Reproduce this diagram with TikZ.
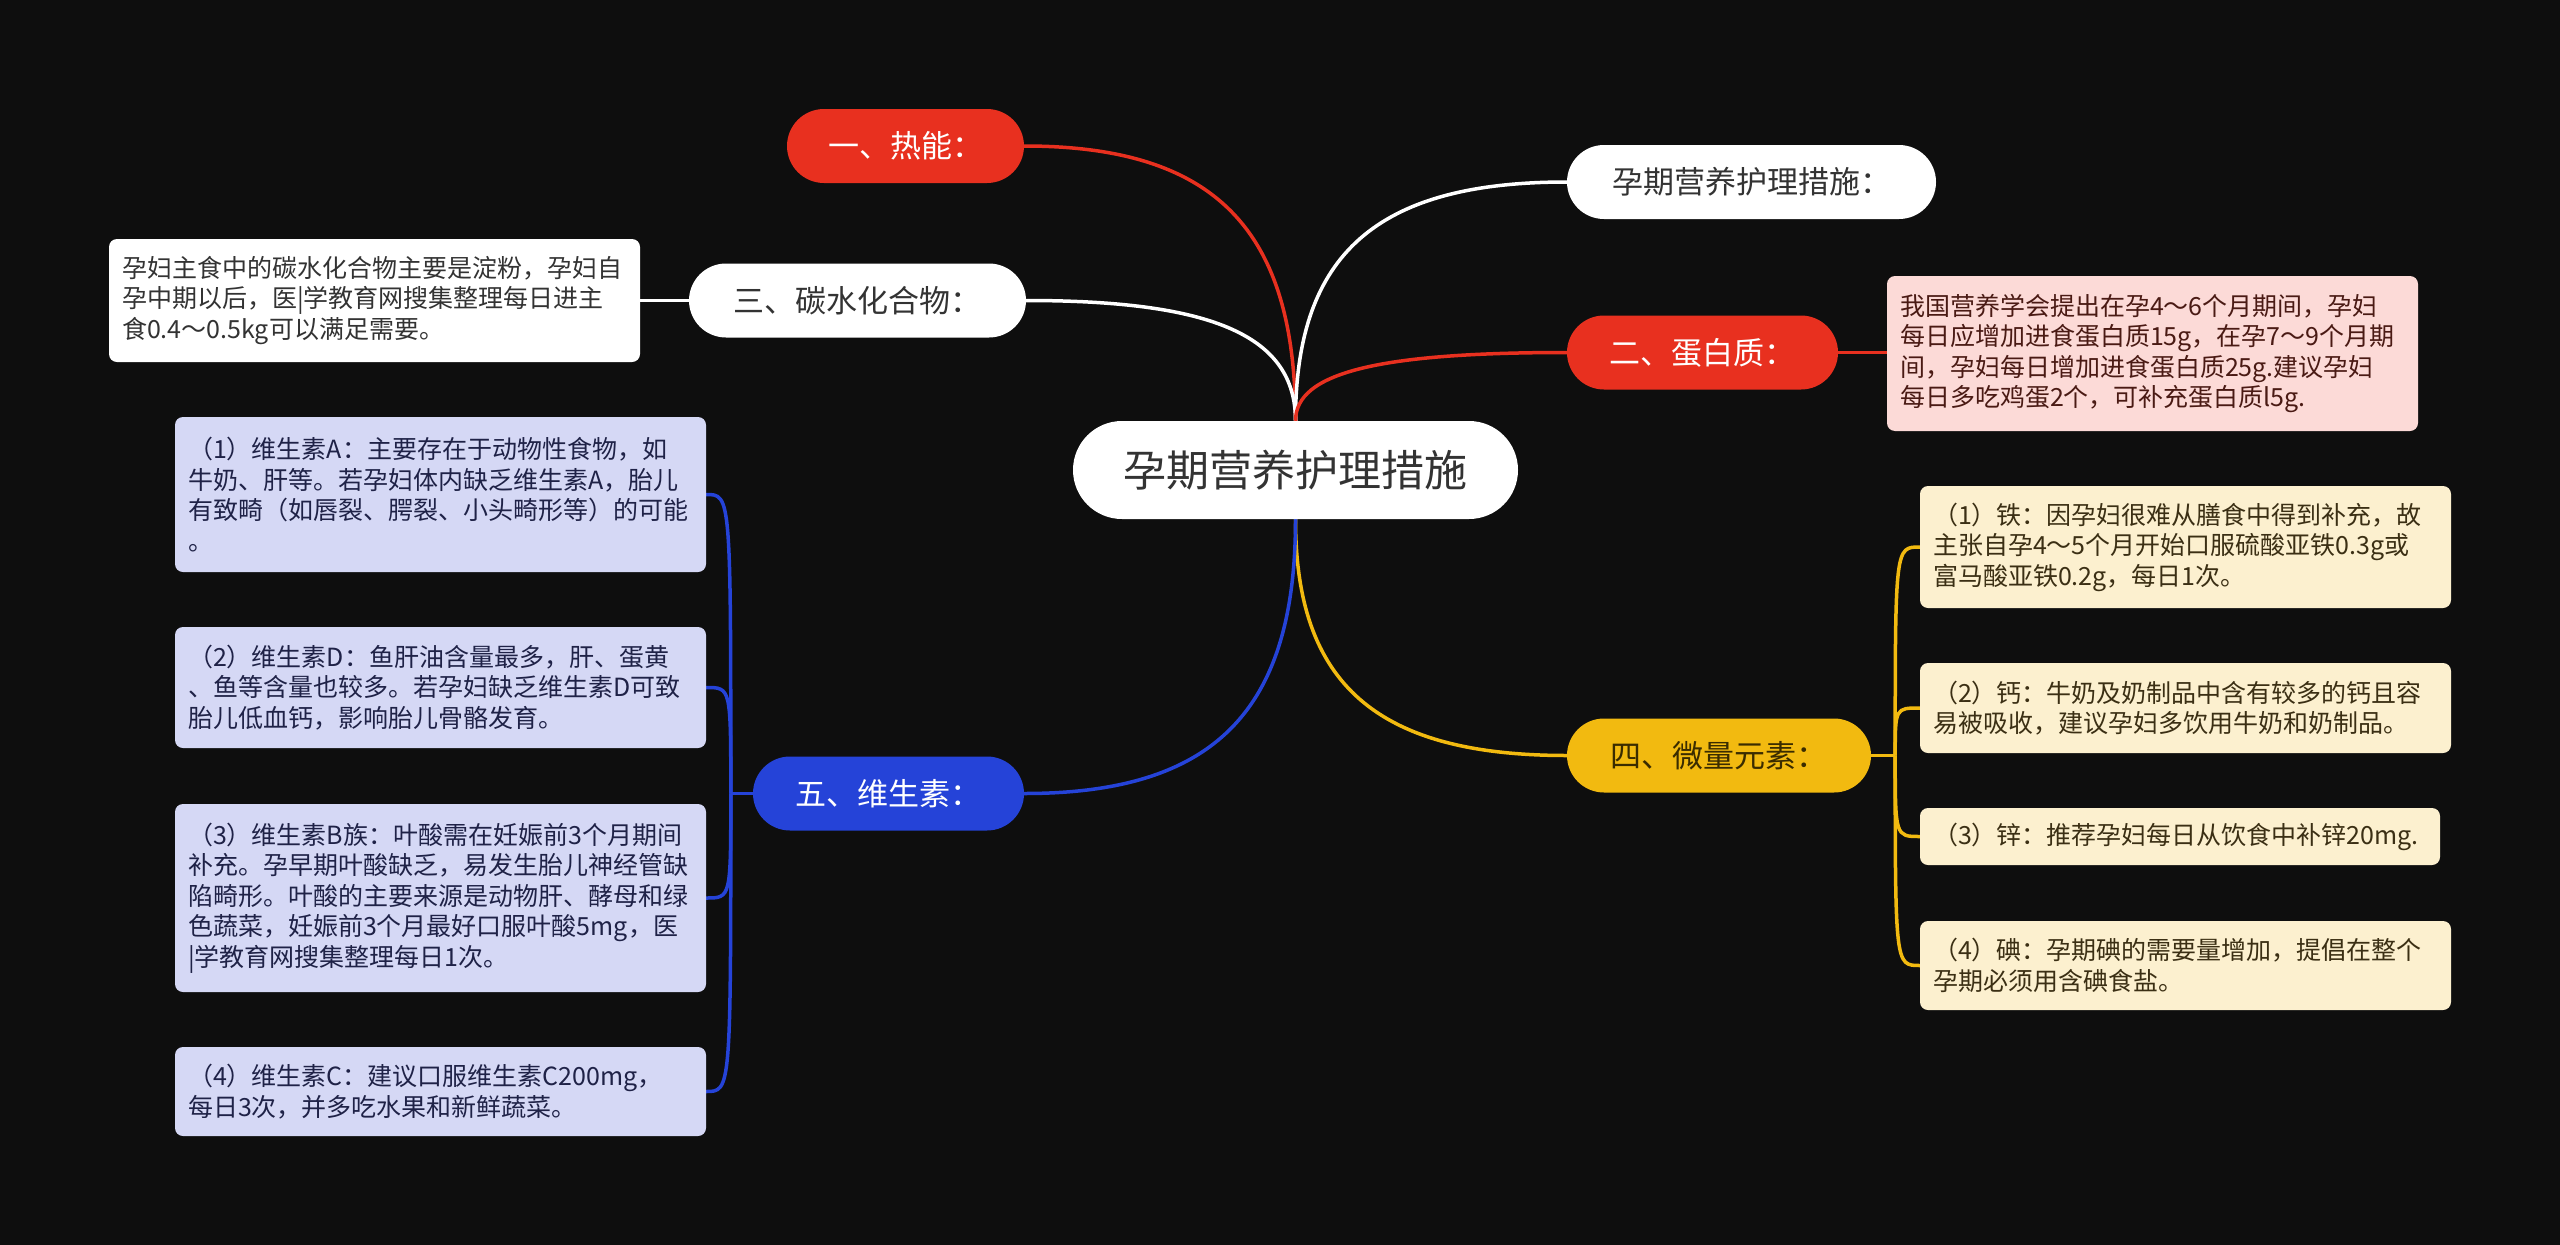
\documentclass[tikz,border=0pt]{standalone}
\usepackage{fontspec}
\setmainfont{Noto Sans CJK SC}
\usetikzlibrary{calc,backgrounds}
\definecolor{bg}{HTML}{0E0E0E}
\definecolor{cred}{HTML}{E8301F}
\definecolor{cblue}{HTML}{2543D8}
\definecolor{cyel}{HTML}{F2BA10}
\definecolor{ctext}{HTML}{333333}
\definecolor{protfill}{HTML}{FCDAD7}
\definecolor{prottext}{HTML}{4A1A14}
\definecolor{minfill}{HTML}{FCF0CF}
\definecolor{mintext}{HTML}{3B2F14}
\definecolor{vitfill}{HTML}{D5D8F5}
\definecolor{vittext}{HTML}{1F2247}
\definecolor{yeltext}{HTML}{3A2C00}
\newcommand\mmbranch[3]{\draw[#1] (#2) .. controls ($(#2)!0.7!(#2|-#3)$) and ($(#3)!0.7!(#2|-#3)$) .. (#3);}
\begin{document}
\begin{tikzpicture}[x=1pt,y=-1pt,
  pill/.style={rounded corners=37pt, minimum height=74pt, inner sep=0pt, font=\fontsize{31}{36}\selectfont},
  redpill/.style={pill, fill=cred, text=white},
  whitepill/.style={pill, fill=white, text=ctext},
  yelpill/.style={pill, fill=cyel, text=yeltext},
  bluepill/.style={pill, fill=cblue, text=white},
  centre/.style={rounded corners=49pt, minimum height=98pt, minimum width=445pt, inner sep=0pt, fill=white, text=ctext, font=\fontsize{43}{50}\selectfont},
  note/.style={rounded corners=8pt, inner xsep=13pt, inner ysep=0pt, text width=505pt, align=left, font=\fontsize{25}{30.5}\selectfont},
  carbbox/.style={note, fill=white, text=ctext},
  protbox/.style={note, fill=protfill, text=prottext},
  minbox/.style={note, fill=minfill, text=mintext},
  vitbox/.style={note, fill=vitfill, text=vittext},
  conn/.style={line width=3.5pt},
  redline/.style={conn, draw=cred},
  whiteline/.style={conn, draw=white},
  yelline/.style={conn, draw=cyel},
  blueline/.style={conn, draw=cblue}
]
\useasboundingbox (0,0) rectangle (2560,1245);

% central and main topics
\node[centre] (c) at (1295.5,470) {孕期营养护理措施};
\node[redpill, minimum width=237pt] (p1) at (905.5,146) {一、热能：};
\node[whitepill, minimum width=369pt] (p0) at (1751.5,182) {孕期营养护理措施：};
\node[whitepill, minimum width=337pt] (p3) at (857.5,300.5) {三、碳水化合物：};
\node[redpill, minimum width=271pt] (p2) at (1702.5,352.5) {二、蛋白质：};
\node[yelpill, minimum width=304pt] (p4) at (1719,755.5) {四、微量元素：};
\node[bluepill, minimum width=271pt] (p5) at (888.5,793.5) {五、维生素：};

% detail boxes
\node[carbbox, minimum height=123pt] (carb) at (374.5,300.5) {孕妇主食中的碳水化合物主要是淀粉，孕妇自\\孕中期以后，医|学教育网搜集整理每日进主\\食0.4～0.5kg可以满足需要。};
\node[protbox, minimum height=155pt] (prot) at (2152.5,353.5) {我国营养学会提出在孕4～6个月期间，孕妇\\每日应增加进食蛋白质15g，在孕7～9个月期\\间，孕妇每日增加进食蛋白质25g.建议孕妇\\每日多吃鸡蛋2个，可补充蛋白质l5g.};

\node[minbox, minimum height=122pt] (iron) at (2185.5,547) {（1）铁：因孕妇很难从膳食中得到补充，故\\主张自孕4～5个月开始口服硫酸亚铁0.3g或\\富马酸亚铁0.2g，每日1次。};
\node[minbox, minimum height=90pt] (calc) at (2185.5,708) {（2）钙：牛奶及奶制品中含有较多的钙且容\\易被吸收，建议孕妇多饮用牛奶和奶制品。};
\node[minbox, text width=494pt, minimum height=57pt] (zinc) at (2180,836.5) {（3）锌：推荐孕妇每日从饮食中补锌20mg.};
\node[minbox, minimum height=89pt] (iod) at (2185.5,965.5) {（4）碘：孕期碘的需要量增加，提倡在整个\\孕期必须用含碘食盐。};

\node[vitbox, minimum height=155pt] (va) at (440.5,494.5) {（1）维生素A：主要存在于动物性食物，如\\牛奶、肝等。若孕妇体内缺乏维生素A，胎儿\\有致畸（如唇裂、腭裂、小头畸形等）的可能\\。};
\node[vitbox, minimum height=121pt] (vd) at (440.5,687.5) {（2）维生素D：鱼肝油含量最多，肝、蛋黄\\、鱼等含量也较多。若孕妇缺乏维生素D可致\\胎儿低血钙，影响胎儿骨骼发育。};
\node[vitbox, minimum height=188pt] (vb) at (440.5,898) {（3）维生素B族：叶酸需在妊娠前3个月期间\\补充。孕早期叶酸缺乏，易发生胎儿神经管缺\\陷畸形。叶酸的主要来源是动物肝、酵母和绿\\色蔬菜，妊娠前3个月最好口服叶酸5mg，医\\|学教育网搜集整理每日1次。};
\node[vitbox, minimum height=89pt] (vc) at (440.5,1091.5) {（4）维生素C：建议口服维生素C200mg，\\每日3次，并多吃水果和新鲜蔬菜。};

\begin{scope}[on background layer]
  \fill[bg] (0,0) rectangle (2560,1245);
  % main branches
  \mmbranch{redline}{c.north}{p1.east}
  \mmbranch{whiteline}{c.north}{p0.west}
  \mmbranch{whiteline}{c.north}{p3.east}
  \mmbranch{redline}{c.north}{p2.west}
  \mmbranch{yelline}{c.south}{p4.west}
  \mmbranch{blueline}{c.south}{p5.east}
  % single links
  \draw[whiteline] (p3.west) -- (carb.east);
  \draw[redline] (p2.east) -- (p2.east-|prot.west);
  % mineral spine
  \coordinate (ms) at ($(p4.east)+(24,0)$);
  \draw[yelline] (p4.east) -- (ms);
  \foreach \b in {iron,calc,zinc,iod}{
    \draw[yelline] (ms) .. controls (ms|-\b.west) .. (\b.west);
  }
  % vitamin spine
  \coordinate (vs) at ($(p5.west)+(-22,0)$);
  \draw[blueline] (p5.west) -- (vs);
  \foreach \b in {va,vd,vb,vc}{
    \draw[blueline] (vs) .. controls (vs|-\b.east) .. (\b.east);
  }
\end{scope}
\end{tikzpicture}
\end{document}
